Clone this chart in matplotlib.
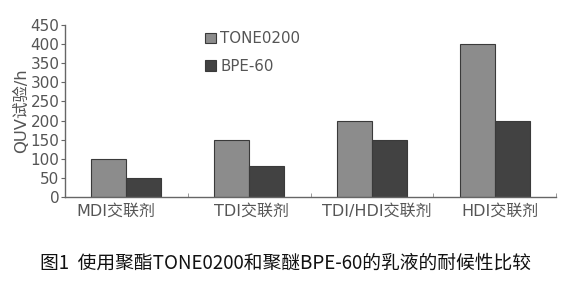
import matplotlib
matplotlib.use("Agg")
import matplotlib.pyplot as plt
import matplotlib.transforms as mtransforms
import numpy as np

plt.rcParams['font.family'] = ['DejaVu Sans', 'Noto Sans CJK SC']

categories = ["MDI交联剂", "TDI交联剂", "TDI/HDI交联剂", "HDI交联剂"]
tone0200 = [100, 150, 200, 400]
bpe60 = [50, 80, 150, 200]
series_names = ["TONE0200", "BPE-60"]
yticks = [0, 50, 100, 150, 200, 250, 300, 350, 400, 450]
ylabel = "QUV试验/h"
caption = "图1  使用聚酯TONE0200和聚醚BPE-60的乳液的耐候性比较"

fig = plt.figure(figsize=(5.62, 2.81), dpi=100)
ax = fig.add_axes([65/562, 1-197/281, (556-65)/562, (197-25)/281])

x = np.arange(len(categories))
w = 0.285
c1, c2 = "#8c8c8c", "#424242"
ec = "#3a3a3a"
ax.bar(x - w/2, tone0200, w, color=c1, edgecolor=ec, linewidth=0.8, label=series_names[0])
ax.bar(x + w/2, bpe60, w, color=c2, edgecolor=ec, linewidth=0.8, label=series_names[1])

ax.set_xlim(-0.5, len(categories) - 0.5)
ax.set_ylim(0, 450)
ax.set_yticks(yticks)
ax.set_xticks(x)
ax.set_xticklabels(categories)
ax.set_xticks(np.arange(len(categories)) + 0.5, minor=True)

tc = "#555555"
for s in ["top", "right"]:
    ax.spines[s].set_visible(False)
for s in ["left", "bottom"]:
    ax.spines[s].set_color("#666666")
    ax.spines[s].set_linewidth(1.0)

ax.tick_params(axis='y', direction='out', length=3, color="#666666", labelsize=11, labelcolor=tc, pad=1)
ax.tick_params(axis='x', which='major', length=0, labelsize=11.5, labelcolor=tc, pad=5)
ax.tick_params(axis='x', which='minor', direction='in', length=3, color="#888888")

# small horizontal offsets of the labels as seen in the reference
shifts_px = [-11, 2, 5, 5]
for lab, dx in zip(ax.get_xticklabels(), shifts_px):
    lab.set_transform(lab.get_transform() + mtransforms.ScaledTranslation(dx / 100, 0, fig.dpi_scale_trans))

ax.set_ylabel(ylabel, fontsize=11.8, color=tc, labelpad=1)

leg = ax.legend(loc='upper left', bbox_to_anchor=(205/562, 1-31/281), bbox_transform=fig.transFigure,
                frameon=False, fontsize=10.8, handlelength=0.7, handleheight=0.7,
                handletextpad=0.3, labelspacing=0.85, borderpad=0, borderaxespad=0)
for t in leg.get_texts():
    t.set_color(tc)

fig.text(285/562, 1-263/281, caption, ha='center', va='center', fontsize=13.5,
         family=['Noto Sans CJK SC', 'DejaVu Sans'], fontweight='medium', color="#111111")

fig.savefig("out.png", dpi=100)
